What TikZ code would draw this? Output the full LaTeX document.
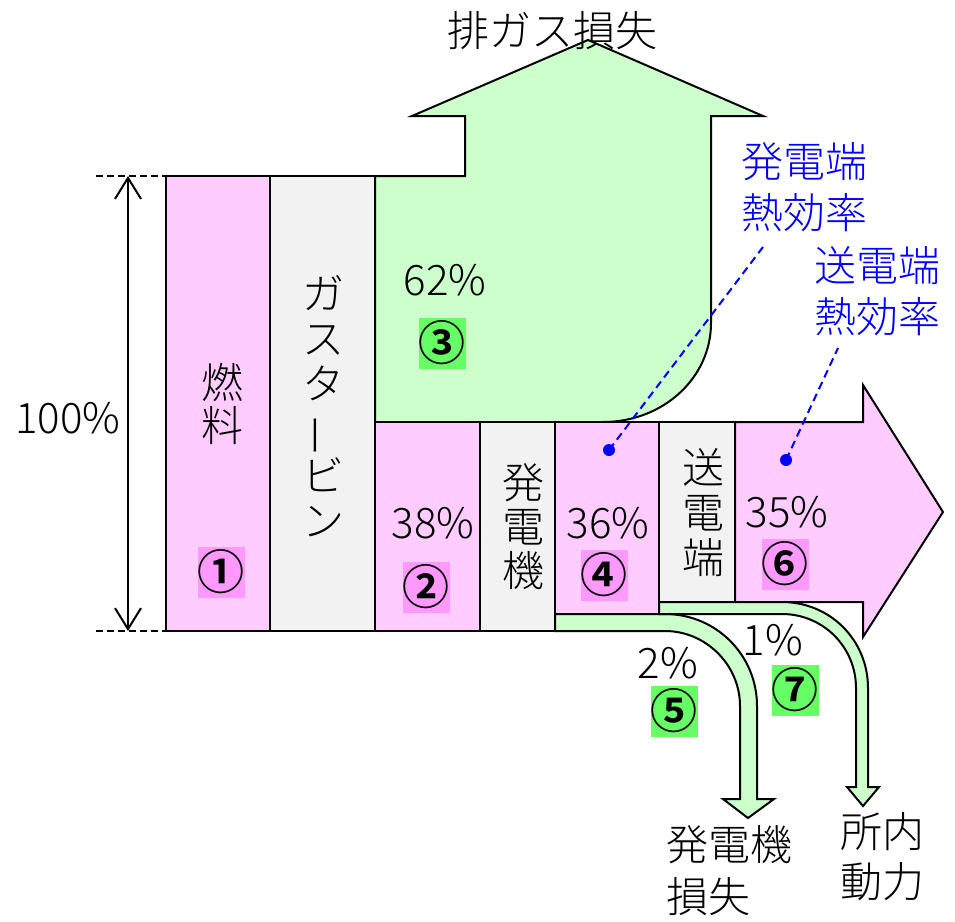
\documentclass[tikz,border=0pt]{standalone}
\usepackage{fontspec}
\usepackage{graphicx}
\setmainfont{Noto Sans CJK JP}[UprightFont=* Light,BoldFont=* Bold]
\usetikzlibrary{arrows.meta}
\definecolor{pinkfill}{HTML}{FFCCFF}
\definecolor{pinkhl}{HTML}{FF99FF}
\definecolor{greenfill}{HTML}{CCFFCC}
\definecolor{greenhl}{HTML}{66FF66}
\definecolor{grayfill}{HTML}{F2F2F2}
\definecolor{labelblue}{HTML}{0000FF}
\begin{document}
\begin{tikzpicture}[x=1pt,y=-1pt,line join=miter,
  outl/.style={draw=black,line width=2pt},
  pinkbox/.style={outl,fill=pinkfill},
  graybox/.style={outl,fill=grayfill},
  greenshape/.style={outl,fill=greenfill},
  txt/.style={inner sep=0pt,font=\fontsize{42}{45}\selectfont},
  vtxt/.style={inner sep=0pt,align=center,font=\fontsize{42}{#1}\selectfont},
  bluetxt/.style={inner sep=0pt,align=center,text=labelblue,font=\fontsize{42}{51}\selectfont},
  numbox/.style={inner sep=0pt,minimum width=45pt,minimum height=51pt,fill=#1,font=\fontsize{47}{47}\selectfont\bfseries},
  blueline/.style={draw=labelblue,line width=2pt,dash pattern=on 8pt off 5pt},
  dimline/.style={draw=black,line width=2pt},
  dimdash/.style={draw=black,line width=1.5pt,dash pattern=on 7pt off 4pt}
]
\useasboundingbox (0,0) rectangle (955,921);
\fill[white] (0,0) rectangle (955,921);

% exhaust loss arrow (green)
\path[greenshape] (375,176) -- (465,176) -- (465,116) -- (412,116) -- (588,40)
  -- (763,116) -- (711,116) -- (711,323)
  .. controls (711,378) and (663,422) .. (603,422)
  -- (375,422) -- cycle;

% output arrow (pink)
\path[pinkbox] (735,422) -- (863,422) -- (863,385) -- (943,512) -- (863,637)
  -- (863,602) -- (735,602) -- cycle;

% boxes
\path[pinkbox] (166,176) rectangle (270,631);
\path[graybox] (270,176) rectangle (375,631);
\path[pinkbox] (375,422) rectangle (480,631);
\path[graybox] (480,422) rectangle (555,631);
\path[pinkbox] (555,422) rectangle (659,614);
\path[graybox] (659,422) rectangle (735,602);

% generator loss arrow
\path[greenshape] (555,614) -- (665,614)
  .. controls (716,614) and (757,655) .. (757,706)
  -- (757,799) -- (774,799) -- (748,818) -- (723,799) -- (740,799) -- (740,706)
  .. controls (740,665) and (706,631) .. (665,631)
  -- (555,631) -- cycle;

% station service arrow
\path[greenshape] (659,602) -- (782,602)
  .. controls (830,602) and (868,640) .. (868,688)
  -- (868,787) -- (879,787) -- (863,806) -- (847,787) -- (856,787) -- (856,688)
  .. controls (856,647) and (823,614) .. (782,614)
  -- (659,614) -- cycle;

% dimension
\coordinate (dimtop) at (128,176);
\coordinate (dimbot) at (128,631);
\coordinate (dashtopL) at (96,176);
\coordinate (dashtopR) at (166,176);
\coordinate (dashbotL) at (96,631);
\coordinate (dashbotR) at (166,631);
\draw[dimdash] (dashtopL) -- (dashtopR);
\draw[dimdash] (dashbotL) -- (dashbotR);
\draw[dimline,{Straight Barb[length=21pt,width=26pt,line width=2pt]}-{Straight Barb[length=21pt,width=26pt,line width=2pt]}] (dimtop) -- (dimbot);
\node[txt] (hundred) at (68,418) {100\%};

% texts
\node[txt] (title) at (552,31) {排ガス損失};
\node[vtxt=43] (fuel) at (222,404) {燃\\料};
\node[vtxt=45] (gt) at (323,406) {ガ\\ス\\タ\\\rotatebox[origin=c]{90}{ー}\\ビ\\ン};
\node[vtxt=44] (gen) at (523,527) {発\\電\\機};
\node[vtxt=45] (send) at (703,513) {送\\電\\端};

\node[txt] (p62) at (445,280) {62\%};
\node[txt] (p38) at (433,523) {38\%};
\node[txt] (p36) at (608,523) {36\%};
\node[txt] (p35) at (787,512) {35\%};
\node[txt] (p2) at (668,663) {2\%};
\node[txt] (p1) at (773,640) {1\%};

\node[numbox=pinkhl] (n1) at (221,572) {①};
\node[numbox=pinkhl] (n2) at (426,587) {②};
\node[numbox=greenhl] (n3) at (442,343) {③};
\node[numbox=pinkhl] (n4) at (604,575) {④};
\node[numbox=greenhl] (n5) at (674,711) {⑤};
\node[numbox=pinkhl] (n6) at (785,564) {⑥};
\node[numbox=greenhl] (n7) at (795,690) {⑦};

\node[vtxt=52,align=left,anchor=west] (genloss) at (666,871) {発電機\\損失};
\node[vtxt=50,align=left,anchor=west] (aux) at (840,857) {所内\\動力};

% efficiency labels
\node[bluetxt] (lab1) at (804,187) {発電端\\熱効率};
\node[bluetxt] (lab2) at (877,291) {送電端\\熱効率};
\coordinate (dot1) at (609,450);
\coordinate (dot2) at (786,460);
\coordinate (lab1end) at (763,247);
\coordinate (lab2end) at (838,348);
\draw[blueline] (dot1) -- (lab1end);
\draw[blueline] (dot2) -- (lab2end);
\fill[labelblue] (dot1) circle (6pt);
\fill[labelblue] (dot2) circle (6pt);
\end{tikzpicture}
\end{document}
